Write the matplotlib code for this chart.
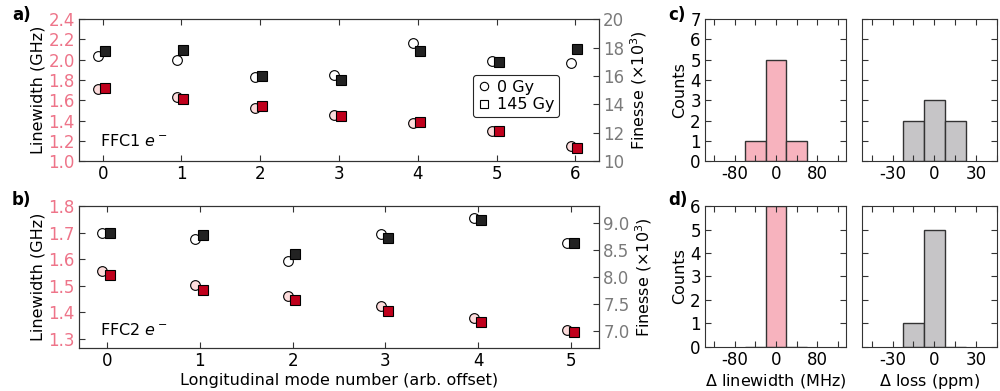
import matplotlib
matplotlib.use("Agg")
import matplotlib.pyplot as plt
import numpy as np
from matplotlib.lines import Line2D

plt.rcParams["font.family"] = "DejaVu Sans"
plt.rcParams["font.size"] = 11.5
plt.rcParams["axes.unicode_minus"] = False

# FFC1 data
mode_a = [0, 1, 2, 3, 4, 5, 6]
fin_a_0 = [17.4, 17.15, 15.95, 16.05, 18.3, 17.05, 16.9]
fin_a_145 = [17.75, 17.8, 16.0, 15.7, 17.75, 17.0, 17.9]
lw_a_0 = [1.71, 1.63, 1.52, 1.455, 1.38, 1.30, 1.15]
lw_a_145 = [1.72, 1.615, 1.545, 1.445, 1.385, 1.30, 1.13]

# FFC2 data
mode_b = [0, 1, 2, 3, 4, 5]
fin_b_0 = [8.81, 8.695, 8.30, 8.79, 9.085, 8.63]
fin_b_145 = [8.815, 8.78, 8.42, 8.71, 9.055, 8.63]
lw_b_0 = [1.557, 1.502, 1.462, 1.425, 1.379, 1.334]
lw_b_145 = [1.539, 1.486, 1.446, 1.407, 1.365, 1.326]

# histograms (bin edges and counts)
lw_bins = [-60, -20, 20, 60]
loss_bins = [-22.5, -7.5, 7.5, 22.5]
c_lw_counts = [1, 5, 1]
c_loss_counts = [2, 3, 2]
d_lw_counts = [0, 6, 0]
d_loss_counts = [1, 5, 0]

PINK_TXT = "#ee7489"
GRAY_TXT = "#7a7a7a"
RED = "#c0001c"
LIGHT = "#fddcdc"
DARK = "#222222"
HIST_PINK = "#f7b3be"
HIST_GRAY = "#c6c5c7"
SPINE = "0.2"

fig = plt.figure(figsize=(10, 3.91), dpi=100)


def style(ax):
    for s in ax.spines.values():
        s.set_color(SPINE)
    ax.tick_params(direction="in", length=4, color=SPINE, labelsize=12, pad=3)


def scatter_panel(rect, x, f0, f145, l0, l145, lwlim, lwticks, flim, fticks,
                  xlim, label, dxo, dxs):
    ax = fig.add_axes(rect)
    ax2 = ax.twinx()
    x = np.asarray(x, float)
    ax2.plot(x + dxo, f0, "o", ms=7, mfc="white", mec="k", mew=0.8, zorder=3)
    ax2.plot(x + dxs, f145, "s", ms=7, mfc=DARK, mec="k", mew=0.8, zorder=4)
    ax.plot(x + dxo, l0, "o", ms=7, mfc=LIGHT, mec="k", mew=0.8, zorder=3)
    ax.plot(x + dxs, l145, "s", ms=7, mfc=RED, mec="k", mew=0.8, zorder=4)
    ax.set_xlim(xlim)
    ax.set_ylim(lwlim)
    ax.set_yticks(lwticks)
    ax2.set_ylim(flim)
    ax2.set_yticks(fticks)
    ax.set_xticks(list(x))
    style(ax)
    style(ax2)
    ax.tick_params(top=True, right=False)
    ax.tick_params(axis="y", labelcolor=PINK_TXT)
    ax2.tick_params(axis="y", labelcolor=GRAY_TXT)
    ax.set_ylabel("Linewidth (GHz)", labelpad=2)
    ax2.set_ylabel(r"Finesse ($\times 10^3$)", labelpad=3)
    ax.text(0.04, label[1], label[0], transform=ax.transAxes, va="center")
    return ax, ax2


ax_a, ax_a2 = scatter_panel([0.079, 0.588, 0.520, 0.363], mode_a, fin_a_0, fin_a_145,
                            lw_a_0, lw_a_145, (1.0, 2.4), np.arange(1.0, 2.41, 0.2),
                            (10, 20), np.arange(10, 21, 2), (-0.3, 6.3),
                            ("FFC1 $e^-$", 0.14), -0.06, 0.025)
ax_a.yaxis.set_major_formatter(matplotlib.ticker.FormatStrFormatter("%.1f"))

ax_b, ax_b2 = scatter_panel([0.079, 0.110, 0.520, 0.363], mode_b, fin_b_0, fin_b_145,
                            lw_b_0, lw_b_145, (1.266, 1.8), np.arange(1.3, 1.81, 0.1),
                            (6.695, 9.305), np.arange(7.0, 9.01, 0.5), (-0.3, 5.3),
                            ("FFC2 $e^-$", 0.127), -0.05, 0.03)
ax_b.yaxis.set_major_formatter(matplotlib.ticker.FormatStrFormatter("%.1f"))
ax_b2.yaxis.set_major_formatter(matplotlib.ticker.FormatStrFormatter("%.1f"))
ax_b.set_xlabel("Longitudinal mode number (arb. offset)", labelpad=2)

handles = [Line2D([], [], ls="", marker="o", ms=6, mfc="white", mec="k", mew=0.8),
           Line2D([], [], ls="", marker="s", ms=6, mfc="white", mec="k", mew=0.8)]
leg = ax_a2.legend(handles, ["0 Gy", "145 Gy"], loc="lower left",
                   bbox_to_anchor=(0.757, 0.31), handlelength=0.8,
                   handletextpad=0.4, borderpad=0.3, labelspacing=0.15,
                   borderaxespad=0, fancybox=True, framealpha=1, fontsize=11.5)
leg.get_frame().set_edgecolor("0.15")
leg.get_frame().set_linewidth(0.8)


def hist_panel(rect, bins, counts, color, xlim, xticks, xlabels, ylim, first,
               xlabel=None):
    ax = fig.add_axes(rect)
    bins = np.asarray(bins, float)
    centers = 0.5 * (bins[:-1] + bins[1:])
    ax.hist(centers, bins=bins, weights=counts, color=color, edgecolor="0.2",
            linewidth=1.0)
    ax.set_xlim(xlim)
    ax.set_ylim(ylim)
    ax.set_xticks(xticks)
    ax.set_xticklabels(xlabels)
    ax.set_yticks(range(ylim[1] + 1))
    style(ax)
    ax.tick_params(top=True, right=True)
    if first:
        ax.set_ylabel("Counts", labelpad=2)
    else:
        ax.set_yticklabels([])
    if xlabel:
        ax.set_xlabel(xlabel, labelpad=2)
    return ax


lw_ticks = [-120, -80, -40, 0, 40, 80, 120]
lw_labels = ["", "-80", "", "0", "", "80", ""]
loss_ticks = [-45, -30, -15, 0, 15, 30, 45]
loss_labels = ["", "-30", "", "0", "", "30", ""]

hist_panel([0.705, 0.588, 0.141, 0.363], lw_bins, c_lw_counts, HIST_PINK,
           (-138, 136), lw_ticks, lw_labels, (0, 7), True)
hist_panel([0.862, 0.588, 0.135, 0.363], loss_bins, c_loss_counts, HIST_GRAY,
           (-52, 45), loss_ticks, loss_labels, (0, 7), False)
hist_panel([0.705, 0.113, 0.141, 0.360], lw_bins, d_lw_counts, HIST_PINK,
           (-138, 136), lw_ticks, lw_labels, (0, 6), True,
           r"$\Delta$ linewidth (MHz)")
hist_panel([0.862, 0.113, 0.135, 0.360], loss_bins, d_loss_counts, HIST_GRAY,
           (-52, 45), loss_ticks, loss_labels, (0, 6), False,
           r"$\Delta$ loss (ppm)")

for txt, x, y in [("a)", 0.012, 0.962), ("b)", 0.012, 0.488),
                  ("c)", 0.668, 0.962), ("d)", 0.668, 0.488)]:
    fig.text(x, y, txt, fontweight="bold", fontsize=12, va="center")

fig.savefig("out.png", dpi=100)
